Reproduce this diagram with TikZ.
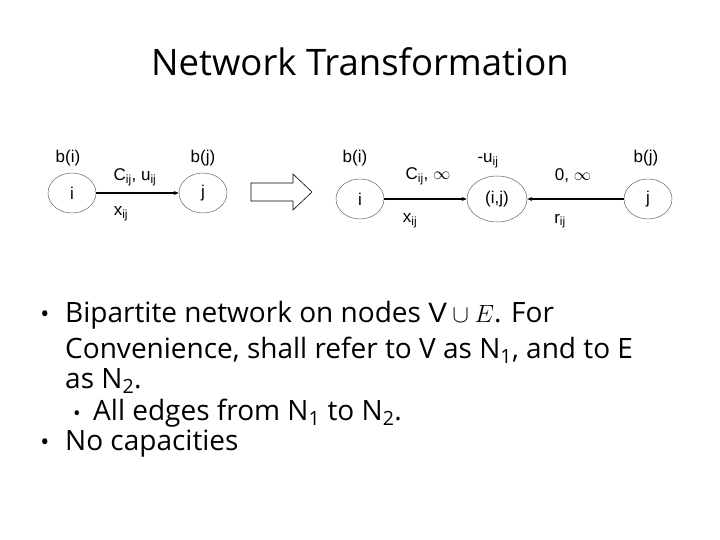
\documentclass[tikz,border=0pt]{standalone}
\usepackage{fontspec}
\setmainfont{Liberation Sans}
\newfontfamily\comic{Open Sans}
\usetikzlibrary{shapes.geometric, arrows.meta}
\newcommand{\sbs}[1]{\textsubscript{#1}}
\begin{document}
\begin{tikzpicture}[x=1pt,y=-1pt,
  vtx/.style={draw=black!60, line width=0.5pt, ellipse, minimum width=48pt, minimum height=40pt, inner sep=0pt, font=\fontsize{17}{19}\selectfont},
  lbl/.style={font=\fontsize{17}{19}\selectfont, inner sep=0pt},
  conn/.style={line width=1.3pt, -{Stealth[length=5pt,width=4pt]}},
  body/.style={font=\comic\fontsize{28}{32}\selectfont, inner sep=0pt, anchor=base west},
  blt/.style={font=\comic\fontsize{24}{30}\selectfont, inner sep=0pt, anchor=base}]
\useasboundingbox (0,0) rectangle (720,540);
\fill[white] (0,0) rectangle (720,540);
% title
\node[font=\comic\fontsize{36.5}{40}\selectfont, inner sep=0pt, anchor=base] (title) at (360,76) {Network Transformation};
% left graph
\node[vtx] (i1) at (72,193) {i};
\node[vtx] (j1) at (203,193) {j};
\draw[conn] (i1) -- (j1);
\node[lbl] (bi1) at (68,158) {b(i)};
\node[lbl] (bj1) at (203,158) {b(j)};
\node[lbl] (cu1) at (135,177) {C\sbs{ij}, u\sbs{ij}};
\node[lbl] (x1) at (121,214) {x\sbs{ij}};
% block arrow
\draw[line width=0.6pt] (251,183) -- (293,183) -- (293,174) -- (312,192) -- (293,210) -- (293,201) -- (251,201) -- cycle;
% right graph
\node[vtx] (i2) at (360,199) {i};
\node[vtx, minimum width=60pt, minimum height=46pt] (ij) at (497,199) {(i,j)};
\node[vtx] (j2) at (648,199) {j};
\draw[conn] (i2) -- (ij);
\draw[conn] (j2) -- (ij);
\node[lbl] (bi2) at (355,158) {b(i)};
\node[lbl] (bj2) at (646,158) {b(j)};
\node[lbl] (cinf) at (428,176) {C\sbs{ij}, $\infty$};
\node[lbl] (mu) at (488,161) {-u\sbs{ij}};
\node[lbl] (zinf) at (573,176) {0, $\infty$};
\node[lbl] (x2) at (410,221) {x\sbs{ij}};
\node[lbl] (r2) at (560,221) {r\sbs{ij}};
% bullets
\node[blt] (b1) at (45,322) {•};
\node[body] (t1) at (65,322) {Bipartite network on nodes $\mathrm{V}\cup E$. For};
\node[body] (t2) at (65,358) {Convenience, shall refer to V as N\sbs{1}, and to E};
\node[body] (t3) at (65,388) {as N\sbs{2}.};
\node[blt, font=\comic\fontsize{20}{24}\selectfont] (b2) at (77,420) {•};
\node[body] (t4) at (93,420) {All edges from N\sbs{1} to N\sbs{2}.};
\node[blt] (b3) at (45,450) {•};
\node[body] (t5) at (65,450) {No capacities};
\end{tikzpicture}
\end{document}
